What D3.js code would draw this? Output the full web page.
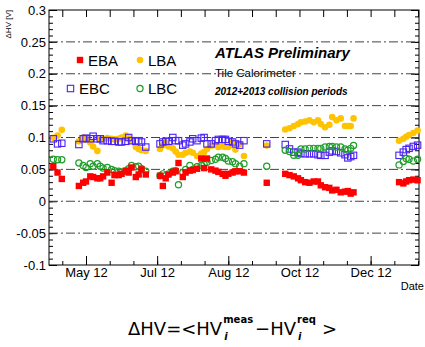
<!DOCTYPE html>
<html>
<head>
<meta charset="utf-8">
<script src="https://cdn.jsdelivr.net/npm/d3@7"></script>
<style>
  body { margin: 0; background: #fff; }
  svg { display: block; font-family: "Liberation Sans", Arial, sans-serif; }
  .axis path { display: none; }
  .axis line { stroke: #000; }
</style>
</head>
<body>
<svg id="chart" width="425" height="347"></svg>
<script>
// run dates (2012 pp + 2013 p-Pb), shared by all four partitions
var runDates = [
  "2012-04-22","2012-04-25","2012-04-28",
  "2012-05-10","2012-05-13","2012-05-15","2012-05-18","2012-05-20","2012-05-23","2012-05-25","2012-05-27","2012-05-30",
  "2012-06-02","2012-06-04","2012-06-07","2012-06-09","2012-06-12","2012-06-14","2012-06-16","2012-06-19","2012-06-21","2012-06-23","2012-06-26",
  "2012-07-06","2012-07-08","2012-07-10","2012-07-12","2012-07-15","2012-07-17","2012-07-19","2012-07-22","2012-07-24","2012-07-27","2012-07-29",
  "2012-08-01","2012-08-04","2012-08-06","2012-08-08","2012-08-11","2012-08-14","2012-08-16","2012-08-19","2012-08-21","2012-08-23","2012-08-26","2012-08-28","2012-08-31",
  "2012-09-03",
  "2012-09-19",
  "2012-10-02","2012-10-05","2012-10-08","2012-10-11","2012-10-13","2012-10-16","2012-10-19","2012-10-22","2012-10-25","2012-10-27","2012-10-30",
  "2012-11-02","2012-11-04","2012-11-07","2012-11-10","2012-11-13","2012-11-15","2012-11-17","2012-11-19",
  "2012-12-21","2012-12-24","2012-12-26","2012-12-28","2012-12-31","2013-01-03"
];

var ebaValues = [
  0.055, 0.045, 0.035,
  0.024, 0.029, 0.031, 0.039, 0.038, 0.036, 0.036, 0.039, 0.045, 0.029, 0.041, 0.041, 0.043, 0.048, 0.045, 0.053, 0.038, 0.042, 0.050, 0.042,
  0.040, 0.024, 0.036, 0.042, 0.045, 0.047, 0.060, 0.038, 0.045, 0.048, 0.049, 0.051, 0.067, 0.052, 0.067, 0.050, 0.048, 0.046, 0.043, 0.040, 0.043, 0.045, 0.047, 0.047, 0.045,
  0.029,
  0.043, 0.041, 0.039, 0.036, 0.033, 0.030, 0.029, 0.031, 0.031, 0.025, 0.022, 0.021, 0.017, 0.018, 0.014, 0.015, 0.016, 0.012, 0.014,
  0.030, 0.028, 0.031, 0.033, 0.034, 0.033
];
var lbaValues = [
  0.0995, 0.103, 0.112,
  0.094, 0.100, 0.096, 0.092, 0.086, 0.079, 0.097, 0.098, 0.099, 0.098, 0.097, 0.098, 0.100, 0.103, 0.100, 0.095, 0.085, 0.082, 0.080, 0.079,
  0.082, 0.088, 0.092, 0.086, 0.083, 0.078, 0.073, 0.073, 0.076, 0.078, 0.076, 0.071, 0.075, 0.077, 0.082, 0.087, 0.088, 0.085, 0.086, 0.085, 0.085, 0.093, 0.081, 0.090, 0.071,
  0.0875,
  0.1125, 0.1145, 0.118, 0.121, 0.124, 0.125, 0.127, 0.124, 0.127, 0.121, 0.116, 0.120, 0.132, 0.127, 0.130, 0.118, 0.118, 0.118, 0.130,
  0.095, 0.098, 0.101, 0.104, 0.107, 0.111
];
var ebcValues = [
  0.098, 0.090, 0.091,
  0.089, 0.098, 0.099, 0.098, 0.102, 0.098, 0.098, 0.095, 0.095, 0.094, 0.094, 0.093, 0.093, 0.094, 0.100, 0.095, 0.094, 0.095, 0.093, 0.085,
  0.090, 0.093, 0.094, 0.094, 0.100, 0.095, 0.095, 0.088, 0.090, 0.093, 0.098, 0.095, 0.099, 0.100, 0.090, 0.090, 0.095, 0.097, 0.097, 0.097, 0.094, 0.093, 0.090, 0.088, 0.095,
  0.090,
  0.089, 0.082, 0.077, 0.077, 0.075, 0.0745, 0.0745, 0.0745, 0.073, 0.072, 0.072, 0.077, 0.079, 0.078, 0.076, 0.073, 0.068, 0.070, 0.072,
  0.072, 0.077, 0.081, 0.083, 0.086, 0.088
];
var lbcValues = [
  0.066, 0.065, 0.065,
  0.060, 0.056, 0.053, 0.059, 0.055, 0.059, 0.055, 0.052, 0.053, 0.050, 0.048, 0.047, 0.046, 0.047, 0.051, 0.056, 0.054, 0.055, 0.051, 0.047,
  0.040, 0.043, 0.040, 0.043, 0.047, 0.048, 0.026, 0.045, 0.050, 0.056, 0.050, 0.054, 0.056, 0.058, 0.061, 0.064, 0.066, 0.069, 0.069, 0.067, 0.063, 0.062, 0.059, 0.055, 0.059,
  0.055,
  0.080, 0.078, 0.072, 0.072, 0.082, 0.082, 0.083, 0.083, 0.083, 0.083, 0.085, 0.086, 0.086, 0.085, 0.085, 0.082, 0.080, 0.083, 0.0875,
  0.057, 0.0625, 0.067, 0.066, 0.063, 0.066
];

var xTickDates = ["2012-05-15", "2012-07-04", "2012-08-23", "2012-10-12", "2012-12-01"];
var xTickLabels = ["May 12", "Jul 12", "Aug 12", "Oct 12", "Dec 12"];
var yTickValues = [0.3, 0.25, 0.2, 0.15, 0.1, 0.05, 0, -0.05, -0.1];
var yTickLabels = ["0.3", "0.25", "0.2", "0.15", "0.1", "0.05", "0", "-0.05", "-0.1"];
var gridValues = [0.25, 0.2, 0.15, 0.1, 0.05, 0, -0.05];

var seriesNames = ["EBA", "LBA", "EBC", "LBC"];

// ---- setup
var parseDay = d3.timeParse("%Y-%m-%d");
var svg = d3.select("#chart");
var frameL = 49, frameR = 419, frameT = 10, frameB = 265;

var x = d3.scaleTime()
  .domain([parseDay("2012-04-19"), parseDay("2013-01-04")])
  .range([frameL, frameR]);
var y = d3.scaleLinear().domain([-0.1, 0.3]).range([frameB, frameT]);

var majorDates = xTickDates.map(parseDay);
var step = (majorDates[1] - majorDates[0]) / 3;
var dom = x.domain();
var minorDates = d3.range(-3, 16).map(function(k) { return new Date(+majorDates[0] + k * step); })
  .filter(function(d) { return d >= dom[0] && d <= dom[1]; });
var yMinor = d3.range(-10, 31).map(function(k) { return k / 100; });

// ---- axes (ROOT style, ticks pointing inward)
function styleAxis(g) {
  g.attr("class", "axis").attr("font-size", 13).attr("font-family", "'Liberation Sans', Arial, sans-serif");
  g.selectAll("text").attr("fill", "#000");
}
svg.append("g").attr("transform", "translate(0," + frameB + ")")
  .call(d3.axisBottom(x).tickValues(minorDates).tickSize(-4).tickFormat(""))
  .call(styleAxis);
svg.append("g").attr("transform", "translate(0," + frameB + ")")
  .call(d3.axisBottom(x).tickValues(majorDates).tickSize(-9).tickPadding(3)
    .tickFormat(function(d, i) { return xTickLabels[i]; }))
  .call(styleAxis);
svg.append("g").attr("transform", "translate(0," + frameT + ")")
  .call(d3.axisTop(x).tickValues(minorDates).tickSize(-7).tickFormat(""))
  .call(styleAxis);

svg.append("g").attr("transform", "translate(" + frameL + ",0)")
  .call(d3.axisLeft(y).tickValues(yMinor).tickSize(-4).tickFormat(""))
  .call(styleAxis);
svg.append("g").attr("transform", "translate(" + frameL + ",0)")
  .call(d3.axisLeft(y).tickValues(yTickValues).tickSize(-8).tickPadding(3)
    .tickFormat(function(d, i) { return yTickLabels[i]; }))
  .call(styleAxis);
svg.append("g").attr("transform", "translate(" + frameR + ",0)")
  .call(d3.axisRight(y).tickValues(yMinor).tickSize(-4).tickFormat(""))
  .call(styleAxis);
svg.append("g").attr("transform", "translate(" + frameR + ",0)")
  .call(d3.axisRight(y).tickValues(yTickValues).tickSize(-8).tickFormat(""))
  .call(styleAxis);

// axis titles
svg.append("text")
  .attr("transform", "translate(11," + frameT + ") rotate(-90)")
  .attr("text-anchor", "end")
  .attr("font-size", 8)
  .text("\u0394HV [V]");
svg.append("text")
  .attr("x", 424).attr("y", 290)
  .attr("text-anchor", "end")
  .attr("font-size", 11)
  .text("Date");

// ---- labels inside the frame
svg.append("text").attr("x", 215).attr("y", 58)
  .attr("font-size", 15).attr("font-weight", "bold").attr("font-style", "italic")
  .text("ATLAS Preliminary");
svg.append("text").attr("x", 215).attr("y", 77)
  .attr("font-size", 11.5)
  .text("Tile Calorimeter");
svg.append("text").attr("x", 215).attr("y", 95)
  .attr("font-size", 10).attr("font-weight", "bold").attr("font-style", "italic")
  .text("2012+2013 collision periods");

// dash-dot grid lines
svg.append("g").selectAll("line").data(gridValues).enter().append("line")
  .attr("x1", frameL).attr("x2", frameR)
  .attr("y1", function(d) { return y(d); })
  .attr("y2", function(d) { return y(d); })
  .attr("stroke", "#444")
  .attr("stroke-width", 1)
  .attr("stroke-dasharray", "9,3,2,3");

// frame
svg.append("rect")
  .attr("x", frameL).attr("y", frameT)
  .attr("width", frameR - frameL).attr("height", frameB - frameT)
  .attr("fill", "none").attr("stroke", "#000");

// ---- markers
var colors = { EBA: "#ff0000", LBA: "#ffc300", EBC: "#4a22f5", LBC: "#1f9e2a" };

function drawMarker(g, name, cx, cy) {
  if (name == "EBA") {
    g.append("rect").attr("x", cx - 3.2).attr("y", cy - 3.2).attr("width", 6.4).attr("height", 6.4)
      .attr("fill", colors.EBA);
  } else if (name == "LBA") {
    g.append("circle").attr("cx", cx).attr("cy", cy).attr("r", 3.3).attr("fill", colors.LBA);
  } else if (name == "EBC") {
    g.append("rect").attr("x", cx - 3.2).attr("y", cy - 3.2).attr("width", 6.4).attr("height", 6.4)
      .attr("fill", "none").attr("stroke", colors.EBC).attr("stroke-width", 1.1);
  } else {
    g.append("circle").attr("cx", cx).attr("cy", cy).attr("r", 3.1)
      .attr("fill", "none").attr("stroke", colors.LBC).attr("stroke-width", 1.2);
  }
}

var dates = runDates.map(parseDay);
var valuesByName = { EBA: ebaValues, LBA: lbaValues, EBC: ebcValues, LBC: lbcValues };

// drawing order: LBA, EBC, LBC, EBA
["LBA", "EBC", "LBC", "EBA"].forEach(function(name) {
  var g = svg.append("g");
  valuesByName[name].forEach(function(v, i) {
    if (v == null) return;
    drawMarker(g, name, x(dates[i]), y(v));
  });
});

// ---- legend
var legendPos = {
  EBA: [80, 60, 88],
  LBA: [140, 60, 148],
  EBC: [70.5, 88.5, 79],
  LBC: [140, 88.5, 148]
};
var lg = svg.append("g");
seriesNames.forEach(function(name) {
  var p = legendPos[name];
  drawMarker(lg, name, p[0], p[1]);
  lg.append("text").attr("x", p[2]).attr("y", p[1] + 5.5)
    .attr("font-size", 15).text(name);
});

// ---- formula under the chart
var formula = svg.append("g").attr("font-family", "'DejaVu Sans', sans-serif").attr("fill", "#000");
function piece(txt, px, py, size, weight, style) {
  var t = formula.append("text").attr("x", px).attr("y", py).attr("font-size", size).text(txt);
  if (weight) t.attr("font-weight", weight);
  if (style) t.attr("font-style", style);
  return t.node().getComputedTextLength();
}
var fx = 128, fy = 335;
var w1 = piece("\u0394HV=<HV", fx, fy, 18);
var s1 = piece("meas", fx + w1 + 1, fy - 12, 10, "bold");
piece("i", fx + w1 + 2, fy + 5, 10, "bold", "italic");
var cx2 = fx + w1 + 1 + s1 + 2;
var w2 = piece("\u2212HV", cx2, fy, 18);
var s2 = piece("req", cx2 + w2 + 1, fy - 12, 10, "bold");
piece("i", cx2 + w2 + 2, fy + 5, 10, "bold", "italic");
piece(">", cx2 + w2 + 1 + s2 + 6, fy, 18);
</script>
</body>
</html>
